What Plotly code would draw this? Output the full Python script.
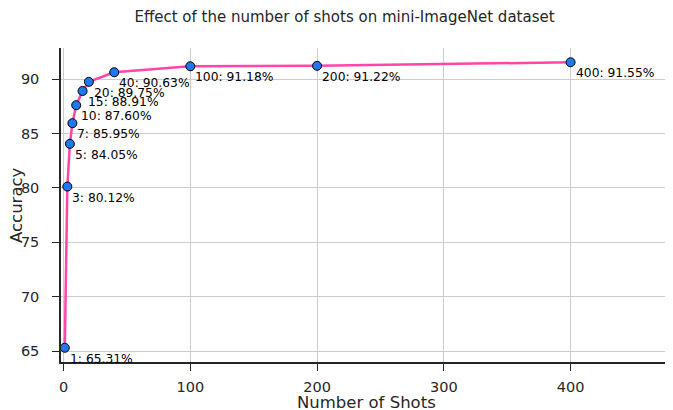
import plotly.graph_objects as go

shots = [1, 3, 5, 7, 10, 15, 20, 40, 100, 200, 400]
accuracy = [65.31, 80.12, 84.05, 85.95, 87.60, 88.91, 89.75, 90.63, 91.18, 91.22, 91.55]
labels = [f"{s}: {a:.2f}%" for s, a in zip(shots, accuracy)]

fig = go.Figure()

fig.add_trace(
    go.Scatter(
        x=shots,
        y=accuracy,
        mode="lines+markers",
        line=dict(color="#ff45a6", width=2.5),
        marker=dict(size=9, color="#1f78f0", line=dict(color="black", width=1)),
        showlegend=False,
    )
)

# value labels, a bit right of and below each point
for s, a, t in zip(shots, accuracy, labels):
    fig.add_annotation(
        x=s, y=a, text=t, showarrow=False,
        xanchor="left", yanchor="middle",
        xshift=3, yshift=-11,
        font=dict(size=12.3, color="black"),
    )

# axis titles as paper annotations so they sit exactly where wanted
fig.add_annotation(
    x=0.5, y=0, xref="paper", yref="paper", text="Number of Shots",
    showarrow=False, xanchor="center", yanchor="middle", yshift=-40,
    font=dict(size=16.5, color="#262626"),
)
fig.add_annotation(
    x=0, y=0.5, xref="paper", yref="paper", text="Accuracy", textangle=-90,
    showarrow=False, xanchor="center", yanchor="middle", xshift=-45,
    font=dict(size=16.5, color="#262626"),
)

axis_common = dict(
    automargin=False,
    showgrid=True,
    gridcolor="#cccccc",
    gridwidth=1,
    showline=True,
    linecolor="#262626",
    linewidth=1.5,
    ticks="outside",
    ticklen=7,
    tickwidth=1.2,
    tickcolor="#262626",
    zeroline=False,
    tickfont=dict(size=14.5, color="#262626"),
)

fig.update_xaxes(
    range=[-2, 480],
    tickvals=[0, 100, 200, 300, 400],
    ticklabelstandoff=4,
    **axis_common,
)
fig.update_yaxes(
    range=[64.0, 92.86],
    tickvals=[65, 70, 75, 80, 85, 90],
    ticklabelstandoff=10,
    **axis_common,
)

# the page body adds ~8px offset, margins compensate for it
fig.update_layout(
    title=dict(
        text="Effect of the number of shots on mini-ImageNet dataset",
        x=0.5, xanchor="center", y=0.978, yanchor="middle",
        font=dict(size=15, color="#262626"),
    ),
    font=dict(family="DejaVu Sans"),
    width=673,
    height=410,
    margin=dict(l=53, r=9, t=40, b=56),
    plot_bgcolor="white",
    paper_bgcolor="white",
)

fig.write_html("out.html")
